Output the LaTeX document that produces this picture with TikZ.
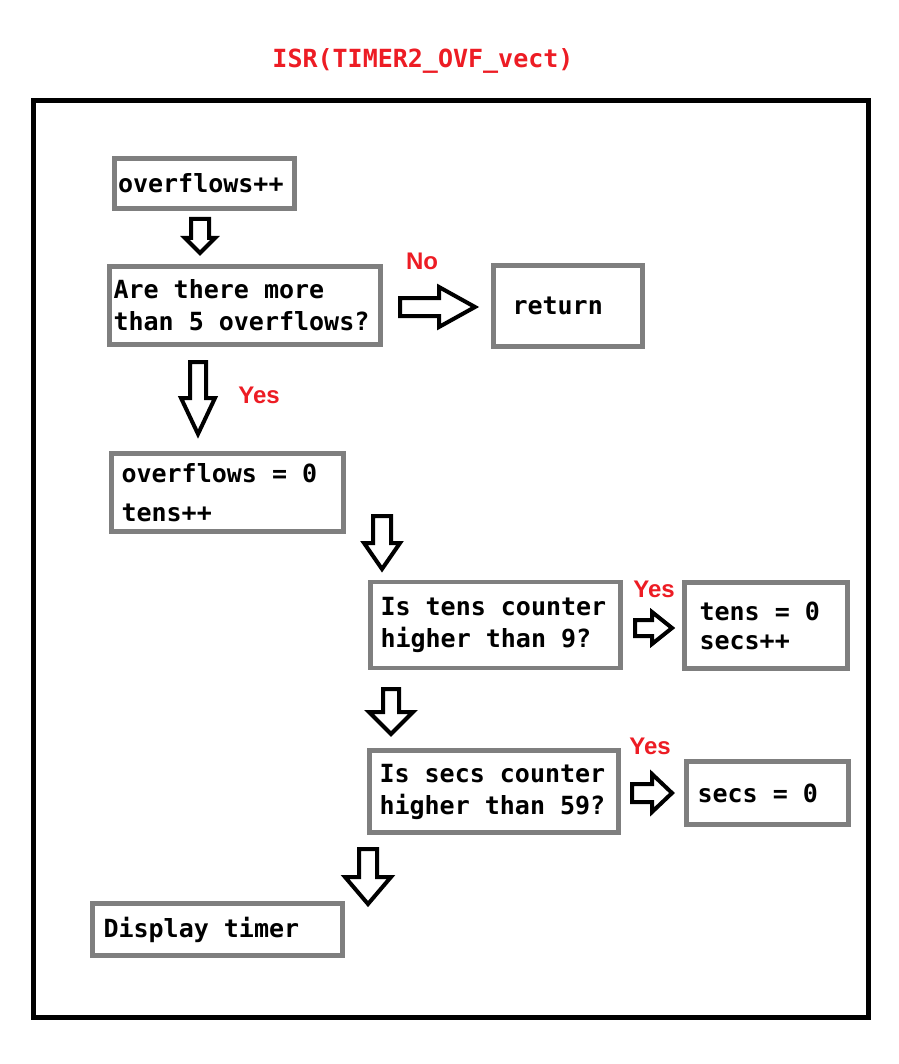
\documentclass[tikz,border=0pt]{standalone}
\usepackage{fontspec}
\newfontfamily\monofnt{DejaVu Sans Mono}
\newfontfamily\labfnt{Liberation Sans}
\definecolor{boxgray}{RGB}{127,127,127}
\definecolor{lblred}{HTML}{ED1C24}
\DeclareRobustCommand\stepfont[1]{\monofnt\bfseries\fontsize{25}{#1}\selectfont\spaceskip=15.05pt\relax}
\newcommand\blockdown[6]{\draw[blockarrow] (#1-#5,#2) -- (#1+#5,#2) -- (#1+#5,#3) -- (#1+#6,#3) -- (#1,#4) -- (#1-#6,#3) -- (#1-#5,#3) -- cycle;}
\newcommand\blockright[6]{\draw[blockarrow] (#2,#1-#5) -- (#3,#1-#5) -- (#3,#1-#6) -- (#4,#1) -- (#3,#1+#6) -- (#3,#1+#5) -- (#2,#1+#5) -- cycle;}
\tikzset{
  stepbox/.style={draw=boxgray, line width=4.8pt, fill=white, align=flush left, anchor=west,
    outer sep=0pt, inner ysep=0pt, font=\stepfont{32}},
  blockarrow/.style={draw=black, line width=4pt, fill=white, line join=miter},
  lbl/.style={text=lblred, font=\labfnt\bfseries\fontsize{24}{26}\selectfont, inner sep=0pt},
}
\begin{document}
\begin{tikzpicture}[x=1pt,y=-1pt]
\useasboundingbox[fill=white] (0,0) rectangle (898,1064);
\node[text=lblred, font=\monofnt\bfseries\fontsize{25}{30}\selectfont, inner sep=0pt] (title) at (423,61) {ISR(TIMER2\_OVF\_vect)};
\draw[line width=5pt] (33,101) rectangle (868,1017);

\node[stepbox, minimum width=180pt, minimum height=50pt, inner xsep=3.5pt, text width=173pt] (b1) at (114.5,183.5) {overflows++};
\node[stepbox, minimum width=271pt, minimum height=78pt, inner xsep=4pt, text width=263pt] (b2) at (109.5,305.5) {Are there more\\than 5 overflows?};
\node[stepbox, minimum width=149pt, minimum height=81pt, inner xsep=19pt, text width=111pt] (ret) at (493.5,306) {return};
\node[stepbox, minimum width=232pt, minimum height=78pt, inner xsep=10pt, text width=212pt, font=\stepfont{39}] (b3) at (111.5,492.5) {overflows = 0\\tens++};
\node[stepbox, minimum width=250pt, minimum height=86pt, inner xsep=10pt, text width=230pt] (b4) at (370.5,625) {Is tens counter\\higher than 9?};
\node[stepbox, minimum width=163pt, minimum height=86pt, inner xsep=15pt, text width=133pt, font=\stepfont{29}] (b5) at (684.5,625.5) {tens = 0\\secs++};
\node[stepbox, minimum width=249pt, minimum height=82pt, inner xsep=10pt, text width=229pt] (b6) at (369.5,791.5) {Is secs counter\\higher than 59?};
\node[stepbox, minimum width=162pt, minimum height=63pt, inner xsep=11pt, text width=140pt] (b7) at (686.5,793) {secs = 0};
\node[stepbox, minimum width=250pt, minimum height=52pt, inner xsep=11pt, text width=228pt] (b8) at (92.5,929.5) {Display timer};

\blockdown{200}{219}{238}{253}{9}{15}
\blockdown{198}{362}{398}{434}{8}{17}
\blockdown{382}{516}{543}{569}{9}{18}
\blockdown{391}{689}{712}{734}{8}{22}
\blockdown{368}{849}{877}{904}{9}{23}
\blockright{307}{400}{439}{475}{9}{20}
\blockright{628}{635}{652}{672}{8}{16}
\blockright{793}{632}{652}{672}{9}{19}

\node[lbl] (no) at (422,261) {No};
\node[lbl] (y1) at (259,395) {Yes};
\node[lbl] (y2) at (654,589) {Yes};
\node[lbl] (y3) at (650,746) {Yes};
\end{tikzpicture}
\end{document}
